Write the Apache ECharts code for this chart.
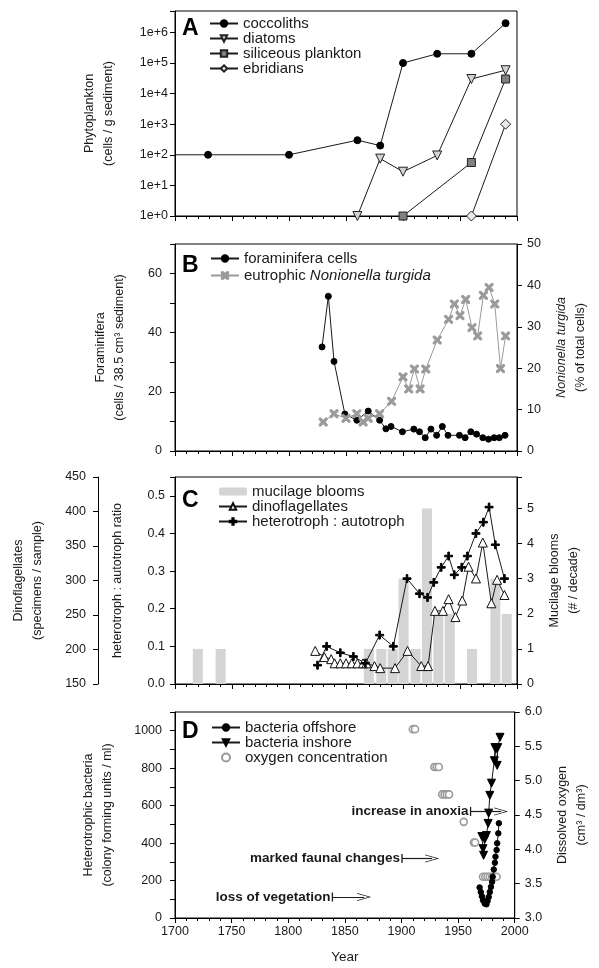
<!DOCTYPE html>
<html>
<head>
<meta charset="utf-8">
<script src="https://cdn.jsdelivr.net/npm/echarts@6/dist/echarts.min.js"></script>
<style>
html, body { margin: 0; padding: 0; background: #fff; }
#chart { width: 599px; height: 968px; }
</style>
</head>
<body>
<div id="chart"></div>
<script>
// A - phytoplankton (cells / g sediment)
var coccolithYears = [1700, 1729, 1800, 1860, 1880, 1900, 1930, 1960, 1990];
var coccolithCells = [100, 100, 100, 300, 200, 100000, 200000, 200000, 2000000];
var diatomYears = [1860, 1880, 1900, 1930, 1960, 1990];
var diatomCells = [1, 75, 28, 95, 30000, 58000];
var siliceousYears = [1900, 1960, 1990];
var siliceousCells = [1, 56, 30000];
var ebridianYears = [1960, 1990];
var ebridianCells = [1, 1000];

// B - foraminifera
var foramYears = [1829, 1834.5, 1839.5, 1849, 1859.5, 1869.5, 1879.5, 1885, 1889.5, 1899.5,
  1909.5, 1914.5, 1919.5, 1924.5, 1929.5, 1934.5, 1939.5, 1949.5, 1954.5, 1959.5,
  1964.5, 1970, 1975, 1980, 1984.5, 1989.5];
var foramCells = [35.2, 52.3, 30.3, 12.5, 10.4, 13.5, 10.4, 7.5, 8.3, 6.5,
  7.4, 6.5, 4.5, 7.4, 5.3, 8.3, 5.3, 5.3, 4.5, 6.5,
  5.7, 4.5, 4.0, 4.5, 4.5, 5.3];
var nonionYears = [1830, 1839.5, 1850, 1859.5, 1865, 1869.5, 1879.5, 1890, 1900, 1905,
  1910, 1915, 1920, 1930, 1940, 1945, 1950, 1955, 1960.5, 1965.5,
  1970.5, 1975.5, 1980.5, 1985.5, 1990];
var nonionPct = [7.0, 9.0, 7.9, 9.0, 7.0, 7.9, 9.0, 12.0, 17.9, 15.0,
  19.8, 15.0, 19.8, 26.8, 31.8, 35.5, 32.7, 36.6, 29.8, 27.8,
  37.6, 39.5, 35.5, 19.9, 27.8];

// C - mucilage, dinoflagellates, heterotroph : autotroph
var muciYears = [1720, 1740, 1870, 1881, 1891, 1900.5, 1911, 1921, 1931, 1941, 1960.5, 1981, 1991];
var muciBlooms = [1, 1, 1, 1, 1, 3, 1, 5, 2, 2, 1, 3, 2];
var dinoYears = [1823, 1831, 1837, 1840, 1845, 1850, 1855, 1860, 1865, 1868,
  1875, 1880, 1893, 1904, 1916, 1922, 1928, 1935, 1940, 1946,
  1952, 1957.5, 1964, 1970, 1977.5, 1982.5, 1989];
var dinoCounts = [198, 189, 186, 180, 180, 180, 180, 180, 180, 180,
  176, 173, 173, 198, 176, 176, 256, 256, 273, 247,
  271, 320, 303, 355, 267, 301, 279];
var heteroYears = [1825, 1833, 1845, 1856.5, 1867, 1879.5, 1891.5, 1903.5, 1914.5, 1921.5,
  1927, 1933.5, 1940, 1945, 1951.5, 1956.5, 1964, 1970.5, 1975.5, 1981, 1989];
var heteroRatio = [0.05, 0.10, 0.083, 0.073, 0.055, 0.13, 0.10, 0.28, 0.24, 0.23,
  0.27, 0.31, 0.34, 0.29, 0.31, 0.34, 0.40, 0.43, 0.47, 0.37, 0.28];

// D - bacteria and oxygen
var offshoreYears = [1969, 1970, 1971, 1972, 1973.5, 1975, 1976, 1977, 1978, 1979,
  1980, 1980.5, 1981.5, 1982.5, 1983, 1984, 1984.5, 1985.5, 1986];
var offshoreCfu = [163, 139, 116, 95, 77, 73, 91, 112, 139, 166,
  193, 220, 259, 295, 327, 363, 399, 452, 506];
var inshoreYears = [1971, 1972, 1972.5, 1973.5, 1975, 1976.5, 1977, 1978, 1979.5, 1982,
  1982.5, 1984, 1984.5, 1985, 1987];
var inshoreCfu = [435, 370, 335, 420, 440, 505, 560, 655, 720, 840,
  910, 905, 815, 910, 965];
var oxyYears = [1910, 1912, 1929, 1931, 1933, 1936, 1938, 1940, 1942, 1955,
  1964, 1965, 1972, 1974, 1976, 1978, 1980, 1982, 1984];
var oxyConc = [5.75, 5.75, 5.2, 5.2, 5.2, 4.8, 4.8, 4.8, 4.8, 4.4,
  4.1, 4.1, 3.6, 3.6, 3.6, 3.6, 3.6, 3.6, 3.6];

// annotations in panel D
var annotText = ['increase in anoxia', 'marked faunal changes', 'loss of vegetation'];
var annotFrom = [1961, 1900.5, 1839];
var annotTo = [1988, 1927, 1867];
var annotLevel = [569, 318, 112];

var FONT = 'Liberation Sans, Arial, sans-serif';
var INK = '#1a1a1a';
var GREY = '#9a9a9a';

function pairs(xs, ys) {
  return xs.map(function (x, i) { return [x, ys[i]]; });
}

var crossPath = 'path://M4,0 L6,0 L6,4 L10,4 L10,6 L6,6 L6,10 L4,10 L4,6 L0,6 L0,4 L4,4 Z';
var xPath = 'path://M0,0 L2.2,0 L5,2.8 L7.8,0 L10,0 L10,2.2 L7.2,5 L10,7.8 L10,10 L7.8,10 L5,7.2 L2.2,10 L0,10 L0,7.8 L2.8,5 L0,2.2 Z';
var chevron = 'path://M0,10 L5,0 L10,10 L9,10 L5,1.8 L1,10 Z';

var panels = [
  { top: 11, height: 205 },
  { top: 244, height: 207 },
  { top: 477, height: 207 },
  { top: 712, height: 206 }
];

var grids = panels.map(function (p) {
  return { left: 175, right: 82, top: p.top, height: p.height, show: true,
    borderColor: '#000', borderWidth: 1, backgroundColor: 'transparent' };
});

var xAxes = panels.map(function (p, i) {
  return {
    type: 'value', gridIndex: i, min: 1700, max: 2000, interval: 50,
    axisLine: { onZero: false, lineStyle: { color: '#000', width: 1 } },
    axisTick: { length: 5, lineStyle: { color: '#000' } },
    minorTick: { show: true, splitNumber: 5, length: 3, lineStyle: { color: '#000' } },
    splitLine: { show: false },
    axisLabel: { show: i === 3, margin: 7, color: INK, fontSize: 12.5, fontFamily: FONT,
      formatter: function (v) { return String(v); } },
    name: i === 3 ? 'Year' : '',
    nameLocation: 'middle', nameGap: 32,
    nameTextStyle: { color: INK, fontSize: 13.5, fontFamily: FONT }
  };
});

function yAx(o) {
  var base = {
    type: 'value',
    axisLine: { show: true, onZero: false, lineStyle: { color: '#000', width: 1 } },
    axisTick: { show: true, length: 5, lineStyle: { color: '#000' } },
    splitLine: { show: false },
    axisLabel: { color: INK, fontSize: 12.5, fontFamily: FONT, margin: 10 },
    nameLocation: 'middle', nameRotate: 90,
    nameTextStyle: { color: INK, fontSize: 12.5, fontFamily: FONT, lineHeight: 19 }
  };
  for (var k in o) {
    if (k === 'axisLabel' || k === 'nameTextStyle') {
      for (var j in o[k]) base[k][j] = o[k][j];
    } else {
      base[k] = o[k];
    }
  }
  return base;
}

function fixed1(v) {
  return Math.abs(v * 10 - Math.round(v * 10)) < 1e-6 ? v.toFixed(1) : '';
}
function intOnly(v) {
  return Math.abs(v - Math.round(v)) < 1e-6 ? String(Math.round(v)) : '';
}
function stepOnly(step) {
  return function (v) { return v % step === 0 ? String(v) : ''; };
}

var yAxes = [
  // 0: A log
  yAx({ type: 'log', gridIndex: 0, min: 1, max: 5e6, logBase: 10,
    name: 'Phytoplankton\n(cells / g sediment)', nameGap: 57,
    axisLabel: { margin: 7, formatter: function (v) {
      var e = Math.log10(v);
      return Math.abs(e - Math.round(e)) < 1e-6 ? '1e+' + Math.round(e) : '';
    } } }),
  // 1: B left
  yAx({ gridIndex: 1, min: 0, max: 70, interval: 20, position: 'left',
    minorTick: { show: true, splitNumber: 2, length: 5, lineStyle: { color: '#000' } },
    name: 'Foraminifera\n(cells / 38.5 cm\u00b3 sediment)', nameGap: 46,
    axisLabel: { margin: 13, formatter: stepOnly(20) } }),
  // 2: B right
  yAx({ gridIndex: 1, min: 0, max: 50, interval: 10, position: 'right',
    name: '{i|Nonionella turgida}\n(% of total cells)', nameGap: 25,
    nameTextStyle: { rich: { i: { fontStyle: 'italic', fontSize: 12.5, fontFamily: FONT, color: INK, lineHeight: 19 } } } }),
  // 3: C inner left ratio
  yAx({ gridIndex: 2, min: 0, max: 0.55, interval: 0.1, position: 'left',
    name: 'heterotroph : autotroph ratio', nameGap: 48,
    axisLabel: { margin: 10, formatter: fixed1 } }),
  // 4: C outer left dinoflagellates
  yAx({ gridIndex: 2, min: 150, max: 450, interval: 50, position: 'left', offset: 77,
    name: 'Dinoflagellates\n(specimens / sample)', nameGap: 51,
    axisLabel: { margin: 12 } }),
  // 5: C right mucilage
  yAx({ gridIndex: 2, min: 0, max: 5.9, interval: 1, position: 'right',
    name: 'Mucilage blooms\n(# / decade)', nameGap: 25,
    axisLabel: { formatter: intOnly } }),
  // 6: D left bacteria
  yAx({ gridIndex: 3, min: 0, max: 1100, interval: 200, position: 'left',
    minorTick: { show: true, splitNumber: 2, length: 5, lineStyle: { color: '#000' } },
    name: 'Heterotrophic bacteria\n(colony forming units / ml)', nameGap: 58,
    axisLabel: { margin: 13, formatter: stepOnly(200) } }),
  // 7: D right oxygen
  yAx({ gridIndex: 3, min: 3, max: 6, interval: 0.5, position: 'right',
    name: 'Dissolved oxygen\n(cm\u00b3 / dm\u00b3)', nameGap: 25,
    axisLabel: { formatter: fixed1 } })
];

function lineSeries(name, xi, yi, data, symbol, size, fill, border, extra) {
  var s = {
    name: name, type: 'line', xAxisIndex: xi, yAxisIndex: yi, data: data,
    symbol: symbol, symbolSize: size, showAllSymbol: true,
    lineStyle: { color: INK, width: 1 },
    itemStyle: { color: fill, borderColor: border, borderWidth: 1, opacity: 1 },
    emphasis: { disabled: true }, animation: false, z: 3
  };
  for (var k in extra || {}) s[k] = extra[k];
  return s;
}

var coccolithData = pairs(coccolithYears, coccolithCells);
coccolithData[0] = { value: coccolithData[0], symbol: 'none' };

var annotLines = annotText.map(function (t, i) {
  return [
    { coord: [annotFrom[i], annotLevel[i]], symbol: 'rect', symbolSize: [9, 1.3],
      label: { show: true, position: 'start', formatter: t, distance: 2,
        fontWeight: 'bold', fontSize: 13.5, fontFamily: FONT, color: INK } },
    { coord: [annotTo[i], annotLevel[i]], symbol: chevron, symbolSize: [8, 14] }
  ];
});

var series = [
  lineSeries('coccoliths', 0, 0, coccolithData, 'circle', 7, '#000', '#000'),
  lineSeries('diatoms', 0, 0, pairs(diatomYears, diatomCells), 'triangle', 9, '#d2d2d2', '#222', { symbolRotate: 180 }),
  lineSeries('siliceous plankton', 0, 0, pairs(siliceousYears, siliceousCells), 'rect', 8, '#808080', '#222'),
  lineSeries('ebridians', 0, 0, pairs(ebridianYears, ebridianCells), 'diamond', 10, '#ebebeb', '#222'),

  lineSeries('foraminifera cells', 1, 1, pairs(foramYears, foramCells), 'circle', 6, '#000', '#000'),
  lineSeries('eutrophic Nonionella turgida', 1, 2, pairs(nonionYears, nonionPct), xPath, 8, GREY, GREY,
    { lineStyle: { color: GREY, width: 1 } }),

  { name: 'mucilage blooms', type: 'bar', xAxisIndex: 2, yAxisIndex: 5,
    data: pairs(muciYears, muciBlooms), barWidth: 10,
    itemStyle: { color: '#d4d4d4' }, emphasis: { disabled: true }, animation: false, z: 1 },
  lineSeries('dinoflagellates', 2, 4, pairs(dinoYears, dinoCounts), 'triangle', 9, '#fff', '#111'),
  lineSeries('heterotroph : autotroph', 2, 3, pairs(heteroYears, heteroRatio), crossPath, 8, '#000', '#000'),

  lineSeries('bacteria offshore', 3, 6, pairs(offshoreYears, offshoreCfu), 'circle', 5.5, '#000', '#000', {
    markLine: { silent: true, animation: false, data: annotLines,
      lineStyle: { color: INK, width: 1.2, type: 'solid' }, emphasis: { disabled: true } } }),
  lineSeries('bacteria inshore', 3, 6, pairs(inshoreYears, inshoreCfu), 'triangle', 8, '#000', '#000', { symbolRotate: 180 }),
  { name: 'oxygen concentration', type: 'scatter', xAxisIndex: 3, yAxisIndex: 7,
    data: pairs(oxyYears, oxyConc), symbol: 'circle', symbolSize: 7,
    itemStyle: { color: '#fff', borderColor: GREY, borderWidth: 1.6, opacity: 1 },
    emphasis: { disabled: true }, animation: false, z: 2 }
];

function legendAt(left, top, names, gap) {
  return {
    left: left, top: top, orient: 'vertical', data: names,
    itemWidth: 28, itemHeight: 8, itemGap: gap, padding: 0,
    selectedMode: false, inactiveColor: '#000',
    textStyle: { color: INK, fontSize: 15, fontFamily: FONT, lineHeight: 15,
      rich: { i: { fontStyle: 'italic', fontSize: 15, fontFamily: FONT, color: INK, lineHeight: 15 } } },
    formatter: function (n) {
      return n === 'eutrophic Nonionella turgida' ? 'eutrophic {i|Nonionella turgida}' : n;
    }
  };
}

function letter(t, top) {
  return { text: t, left: 182, top: top, padding: 0,
    textStyle: { fontSize: 23, fontWeight: 'bold', fontFamily: FONT, color: '#000' } };
}

var option = {
  backgroundColor: '#fff',
  animation: false,
  title: [letter('A', 17), letter('B', 254), letter('C', 489), letter('D', 720)],
  legend: [
    legendAt(209, 16, ['coccoliths', 'diatoms', 'siliceous plankton', 'ebridians'], 0),
    legendAt(210, 251, ['foraminifera cells', 'eutrophic Nonionella turgida'], 2),
    legendAt(218, 484, ['mucilage blooms', 'dinoflagellates', 'heterotroph : autotroph'], 0),
    legendAt(211, 720, ['bacteria offshore', 'bacteria inshore', 'oxygen concentration'], 0)
  ],
  grid: grids,
  xAxis: xAxes,
  yAxis: yAxes,
  series: series
};

var myChart = echarts.init(document.getElementById('chart'), null, { renderer: 'canvas' });
myChart.setOption(option);
</script>
</body>
</html>
